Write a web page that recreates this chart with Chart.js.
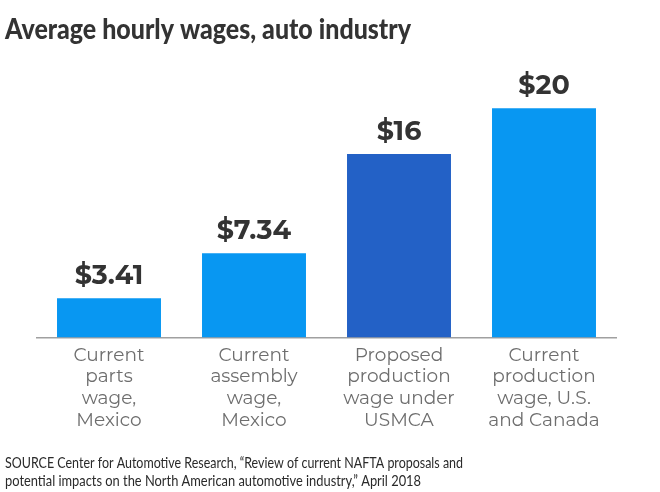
<!DOCTYPE html>
<html>
<head>
<meta charset="utf-8">
<script src="https://cdn.jsdelivr.net/npm/chart.js@4/dist/chart.umd.min.js"></script>
<style>
html,body{margin:0;padding:0;background:#fff;}
#wrap{width:660px;height:492px;position:relative;}
</style>
</head>
<body>
<div id="wrap"><canvas id="c" width="660" height="492"></canvas></div>
<script>
const titleText = "Average hourly wages, auto industry";
const categories = [
  ["Current", "parts", "wage,", "Mexico"],
  ["Current", "assembly", "wage,", "Mexico"],
  ["Proposed", "production", "wage under", "USMCA"],
  ["Current", "production", "wage, U.S.", "and Canada"]
];
const wages = [3.41, 7.34, 16, 20];
const valueLabels = ["$3.41", "$7.34", "$16", "$20"];
const barColors = ["#0897f2", "#0897f2", "#2361c6", "#0897f2"];
const sourceLines = [
  "SOURCE Center for Automotive Research, \u201cReview of current NAFTA proposals and",
  "potential impacts on the North American automotive industry,\u201d April 2018"
];

function fitText(ctx, text, x, y, maxW) {
  const w = ctx.measureText(text).width;
  if (w > maxW) {
    ctx.save();
    ctx.translate(x, y);
    ctx.scale(maxW / w, 1);
    ctx.fillText(text, 0, 0);
    ctx.restore();
  } else {
    ctx.fillText(text, x, y);
  }
}

const decor = {
  id: 'decor',
  afterDatasetsDraw(chart) {
    const ctx = chart.ctx;
    ctx.save();
    // value labels
    ctx.fillStyle = '#333333';
    ctx.font = 'bold 27px Montserrat, "Open Sans", "Noto Sans", sans-serif';
    ctx.textAlign = 'center';
    ctx.textBaseline = 'alphabetic';
    const meta = chart.getDatasetMeta(0);
    meta.data.forEach((bar, i) => {
      ctx.fillText(valueLabels[i], bar.x, bar.y - 14);
    });
    // title
    ctx.textAlign = 'left';
    ctx.fillStyle = '#333333';
    ctx.font = '900 28px Lato, sans-serif';
    fitText(ctx, titleText, 5, 39, 406);
    // source
    ctx.fillStyle = '#2a2a2a';
    ctx.font = '15px Lato, sans-serif';
    fitText(ctx, sourceLines[0], 5, 468, 458);
    fitText(ctx, sourceLines[1], 5, 486, 416);
    ctx.restore();
  }
};

new Chart(document.getElementById('c'), {
  type: 'bar',
  data: {
    labels: categories,
    datasets: [{
      data: wages,
      backgroundColor: barColors,
      borderWidth: 0,
      barPercentage: 0.717,
      categoryPercentage: 1.0
    }]
  },
  options: {
    responsive: false,
    animation: false,
    events: [],
    layout: { padding: { left: 36.5, right: 43.5, top: 51, bottom: 54 } },
    plugins: { legend: { display: false }, title: { display: false }, tooltip: { enabled: false } },
    scales: {
      x: {
        grid: { display: false, drawTicks: false },
        border: { display: true, color: '#a0a0a0', width: 1.5 },
        ticks: {
          color: '#6e6e6e',
          padding: 7,
          maxRotation: 0,
          autoSkip: false,
          font: { family: 'Montserrat, "Open Sans", "Noto Sans", sans-serif', size: 18.5, lineHeight: 1.17 }
        }
      },
      y: {
        display: false,
        min: 0,
        max: 25
      }
    }
  },
  plugins: [decor]
});
</script>
</body>
</html>
